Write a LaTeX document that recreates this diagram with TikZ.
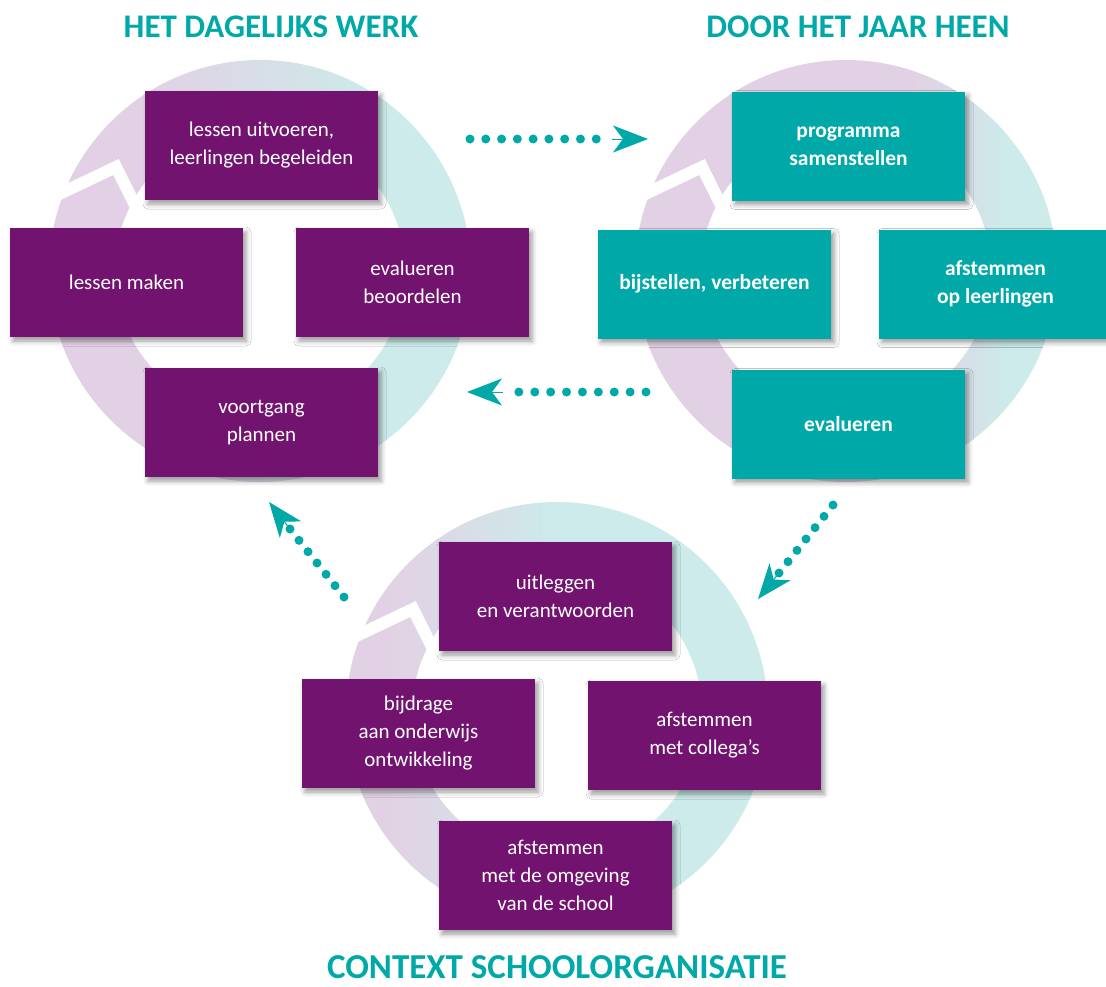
\documentclass[tikz,border=0pt]{standalone}
\usepackage{fontspec}
\setmainfont{Carlito}
\usetikzlibrary{shadows.blur,calc,arrows.meta}
\definecolor{boxpurple}{HTML}{72136F}
\definecolor{boxteal}{HTML}{00A9A8}
\definecolor{ringlav}{HTML}{E2D1E4}
\definecolor{ringteal}{HTML}{CCEBEA}
\pgfdeclarehorizontalshading{ringA}{100bp}{color(0bp)=(ringlav); color(36bp)=(ringlav); color(64bp)=(ringteal); color(100bp)=(ringteal)}
\pgfdeclarehorizontalshading{ringB}{100bp}{color(0bp)=(ringlav); color(58bp)=(ringlav); color(69bp)=(ringteal); color(100bp)=(ringteal)}
\pgfdeclarehorizontalshading{ringC}{100bp}{color(0bp)=(ringlav); color(30bp)=(ringlav); color(50bp)=(ringteal); color(100bp)=(ringteal)}
\tikzset{
  pbox/.style={fill=boxpurple, text=white, minimum width=233pt, minimum height=109pt,
    inner sep=0pt, align=center, font=\fontsize{21}{28}\selectfont,
    blur shadow={shadow xshift=3pt, shadow yshift=-4pt, shadow blur radius=5pt, shadow opacity=40}},
  tbox/.style={pbox, fill=boxteal, font=\bfseries\fontsize{21.5}{28}\selectfont},
  ttl/.style={text=boxteal, anchor=base, inner sep=0pt, font=\bfseries\fontsize{33}{38}\selectfont},
  dotline/.style={boxteal, line width=9pt, line cap=round, dash pattern=on 0pt off #1},
  headarrow/.style={boxteal, line width=1pt, -{Stealth[length=35pt, width=27pt, inset=10pt]}},
  notch/.style={white, line width=12pt, line join=miter},
}
\begin{document}
\begin{tikzpicture}[x=1pt,y=-1pt]
\useasboundingbox (0,0) rectangle (1106,986);
% ring centres
\coordinate (cL) at (260,271);
\coordinate (cR) at (846,271);
\coordinate (cB) at (557,713);
% rings
\shade[shading=ringA] (cL) circle[radius=211pt];
\fill[white] (cL) circle[radius=145pt];
\shade[shading=ringB] (cR) circle[radius=211pt];
\fill[white] (cR) circle[radius=145pt];
\shade[shading=ringC] (cB) circle[radius=211pt];
\fill[white] (cB) circle[radius=145pt];
% notches
\foreach \c in {cL,cR,cB}{
  \draw[notch] ($(\c)+(-205,-75)$) -- ($(\c)+(-144,-104)$) -- ($(\c)+(-114,-44)$);
}
% titles
\node[ttl] (t1) at (271,37) {HET DAGELIJKS WERK};
\node[ttl] (t2) at (858,37) {DOOR HET JAAR HEEN};
\node[ttl, font=\bfseries\fontsize{35}{38}\selectfont] (t3) at (557,978) {CONTEXT SCHOOLORGANISATIE};
% left group
\node[pbox] (l1) at (261.5,145.5) {lessen uitvoeren,\\leerlingen begeleiden};
\node[pbox] (l2) at (126.5,282.5) {lessen maken};
\node[pbox] (l3) at (412.5,282.5) {evalueren\\beoordelen};
\node[pbox] (l4) at (261.5,422.5) {voortgang\\plannen};
% right group
\node[tbox] (r1) at (848.5,146) {programma\\samenstellen};
\node[tbox] (r2) at (714.5,284) {bijstellen, verbeteren};
\node[tbox] (r3) at (995.5,284) {afstemmen\\op leerlingen};
\node[tbox] (r4) at (848.5,424) {evalueren};
% bottom group
\node[pbox] (b1) at (555.5,596.5) {uitleggen\\en verantwoorden};
\node[pbox] (b2) at (418.5,733.5) {bijdrage\\aan onderwijs\\ontwikkeling};
\node[pbox] (b3) at (704.5,735.5) {afstemmen\\met collega’s};
\node[pbox] (b4) at (555.5,875.5) {afstemmen\\met de omgeving\\van de school};
% arrows
\coordinate (a1s) at (470,139); \coordinate (a1e) at (612,139); \coordinate (a1t) at (648,139);
\coordinate (a2s) at (646,392); \coordinate (a2e) at (503,392); \coordinate (a2t) at (467,392);
\coordinate (a3s) at (833,505); \coordinate (a3e) at (779,573); \coordinate (a3t) at (758,599);
\coordinate (a4s) at (344,597); \coordinate (a4e) at (290,529); \coordinate (a4t) at (269,502);
\draw[dotline=15.78pt] (a1s) -- (a1e);
\draw[headarrow] (a1e) -- (a1t);
\draw[dotline=15.89pt] (a2s) -- (a2e);
\draw[headarrow] (a2e) -- (a2t);
\draw[dotline=14.47pt] (a3s) -- (a3e);
\draw[headarrow] (a3e) -- (a3t);
\draw[dotline=14.47pt] (a4s) -- (a4e);
\draw[headarrow] (a4e) -- (a4t);
\end{tikzpicture}
\end{document}
